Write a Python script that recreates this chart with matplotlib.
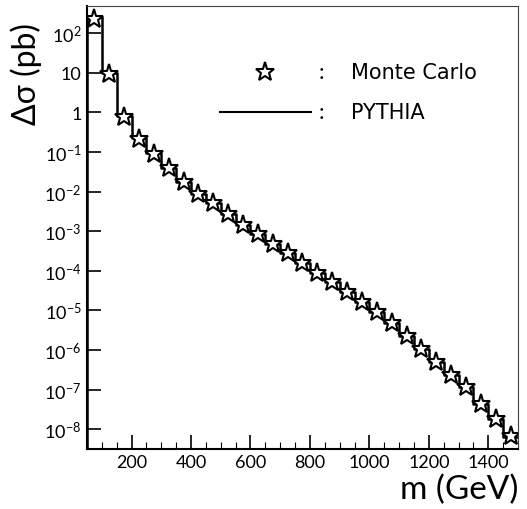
import numpy as np
import matplotlib
matplotlib.use("Agg")
import matplotlib.pyplot as plt
from matplotlib.ticker import FixedLocator, FixedFormatter, MultipleLocator

plt.rcParams['font.family'] = ['Lato', 'DejaVu Sans']
plt.rcParams['mathtext.default'] = 'regular'

# bin edges in m (GeV), 50 GeV bins
bin_edges = [50, 100, 150, 200, 250, 300, 350, 400, 450, 500, 550, 600, 650, 700,
             750, 800, 850, 900, 950, 1000, 1050, 1100, 1150, 1200, 1250, 1300,
             1350, 1400, 1450, 1500]
bin_centers = [75, 125, 175, 225, 275, 325, 375, 425, 475, 525, 575, 625, 675, 725,
               775, 825, 875, 925, 975, 1025, 1075, 1125, 1175, 1225, 1275, 1325,
               1375, 1425, 1475]

# Monte Carlo points (pb)
mc_values = [226, 9.2, 0.76, 0.21, 0.088, 0.039, 0.0173, 0.0086, 0.0051, 0.0027,
             0.00142, 8.4e-4, 4.7e-4, 2.8e-4, 1.56e-4, 8.7e-5, 5.2e-5, 2.9e-5,
             1.6e-5, 9.0e-6, 4.8e-6, 2.2e-6, 1.05e-6, 4.9e-7, 2.4e-7, 1.15e-7,
             4.3e-8, 1.8e-8, 6.7e-9]

# PYTHIA histogram (pb)
pythia_values = [250, 9.6, 0.80, 0.22, 0.092, 0.040, 0.0178, 0.0088, 0.0050, 0.0027,
                 0.00145, 8.5e-4, 4.8e-4, 2.8e-4, 1.58e-4, 8.8e-5, 5.2e-5, 2.9e-5,
                 1.6e-5, 9.0e-6, 4.9e-6, 2.3e-6, 1.08e-6, 5.0e-7, 2.4e-7, 1.15e-7,
                 4.4e-8, 1.8e-8, 6.5e-9]

y_ticks = [1e2, 1e1, 1e0, 1e-1, 1e-2, 1e-3, 1e-4, 1e-5, 1e-6, 1e-7, 1e-8]
y_tick_labels = ['$10^{2}$', '10', '1', '$10^{-1}$', '$10^{-2}$', '$10^{-3}$',
                 '$10^{-4}$', '$10^{-5}$', '$10^{-6}$', '$10^{-7}$', '$10^{-8}$']

fig = plt.figure(figsize=(5.27, 5.10), dpi=100)
ax = fig.add_axes([0.165, 0.118, 0.818, 0.868])

# step histogram
step_y = list(pythia_values) + [pythia_values[-1]]
ax.step(bin_edges, step_y, where='post', color='black', linewidth=1.8)
ax.plot(bin_edges[:1] * 2, [3e-9, pythia_values[0]], color='black', linewidth=1.8)

ax.plot(bin_centers, mc_values, linestyle='none', marker='*', markersize=14,
        markerfacecolor='white', markeredgecolor='black', markeredgewidth=1.5)

ax.set_yscale('log')
ax.set_xlim(50, 1500)
ax.set_ylim(3.2e-9, 480)

ax.yaxis.set_major_locator(FixedLocator(y_ticks))
ax.yaxis.set_major_formatter(FixedFormatter(y_tick_labels))
ax.xaxis.set_major_locator(MultipleLocator(200))
ax.xaxis.set_minor_locator(MultipleLocator(50))

ax.tick_params(axis='both', which='major', direction='in', length=10, width=1.2,
               labelsize=13, top=False, right=False)
ax.tick_params(axis='both', which='minor', direction='in', length=5, width=0.8,
               top=False, right=False)
ax.tick_params(axis='y', which='minor', labelleft=False)
ax.tick_params(axis='y', pad=4)

for side in ['left', 'bottom']:
    ax.spines[side].set_linewidth(1.5)
for side in ['top', 'right']:
    ax.spines[side].set_linewidth(0.8)
    ax.spines[side].set_color('#444444')

fig.text(0.05, 0.855, 'Δσ (pb)', rotation=90, ha='center', va='center', fontsize=23)
fig.text(0.983, 0.04, 'm (GeV)', ha='right', va='center', fontsize=24)

# legend drawn by hand
ax.plot([648], [10.4], linestyle='none', marker='*',
        markersize=14, markerfacecolor='white', markeredgecolor='black',
        markeredgewidth=1.5)
ax.plot([497, 805], [1.0, 1.0], color='black', linewidth=1.5)
ax.text(839, 10.4, ':', fontsize=16, ha='center', va='center')
ax.text(839, 1.0, ':', fontsize=16, ha='center', va='center')
ax.text(939, 10.4, 'Monte Carlo', fontsize=15, ha='left', va='center',
        family=['DejaVu Sans'])
ax.text(939, 1.0, 'PYTHIA', fontsize=15, ha='left', va='center',
        family=['DejaVu Sans'])

fig.savefig('out.png', dpi=100)
